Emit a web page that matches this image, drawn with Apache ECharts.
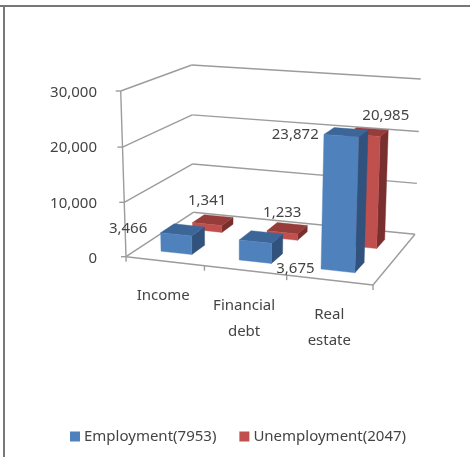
<!DOCTYPE html>
<html>
<head>
<meta charset="utf-8">
<style>html,body{margin:0;padding:0;background:#fff}#chart{width:470px;height:457px}</style>
<script src="https://cdn.jsdelivr.net/npm/echarts@6/dist/echarts.min.js"></script>
</head>
<body>
<div id="chart"></div>
<script>
// Data
const categories = ['Income', 'Financial\ndebt', 'Real\nestate'];
const employment = [3466, 3675, 23872];
const unemployment = [1341, 1233, 20985];
const valueTicks = [0, 10000, 20000, 30000];
const valueMax = 30000;

// Label placement relative to each bar's top front edge, in pixels
const employmentLabelShift = [[-48, -6], [40, 27], [-46, -1]];
const unemploymentLabelShift = [[0, -23], [0, -20], [22, -19]];
const categoryLabelDrop = [21, 22, 21];
const categoryLabelNudge = [-1.5, -1, 0];

// Plot box in perspective: corners of the floor and the ceiling (front-left,
// front-right, back-right, back-left)
const floorQuad = [[126, 256.7], [373, 285], [415, 234.3], [193.3, 212.3]];
const ceilQuad = [[120.7, 91], [378.5, 108.6], [420.7, 79], [191.7, 65]];
const verticalFalloff = 0.977;

const gridBox = { left: 121, top: 91, width: 252, height: 165.7 };
const fontFamily = '"Noto Sans", sans-serif';
const fontSize = 15;
const textColor = '#444444';
const lineColor = '#9c9c9c';

function quadMap(q) {
  const [p0, p1, p2, p3] = q;
  const dx1 = p1[0] - p2[0], dx2 = p3[0] - p2[0], sx = p0[0] - p1[0] + p2[0] - p3[0];
  const dy1 = p1[1] - p2[1], dy2 = p3[1] - p2[1], sy = p0[1] - p1[1] + p2[1] - p3[1];
  const den = dx1 * dy2 - dx2 * dy1;
  const g = (sx * dy2 - dx2 * sy) / den;
  const h = (dx1 * sy - sx * dy1) / den;
  const a = p1[0] - p0[0] + g * p1[0], b = p3[0] - p0[0] + h * p3[0], c = p0[0];
  const d = p1[1] - p0[1] + g * p1[1], e = p3[1] - p0[1] + h * p3[1], f = p0[1];
  return (u, v) => {
    const w = g * u + h * v + 1;
    return [(a * u + b * v + c) / w, (d * u + e * v + f) / w];
  };
}
const floorAt = quadMap(floorQuad);
const ceilAt = quadMap(ceilQuad);

// u: across the categories, v: into the depth, t: share of the value axis
function project(u, v, t) {
  const F = floorAt(u, v), C = ceilAt(u, v);
  const k = t * verticalFalloff, n = 1 - t + k;
  return [(F[0] * (1 - t) + C[0] * k) / n, (F[1] * (1 - t) + C[1] * k) / n];
}
function shareOf(api, value) {
  const y0 = api.coord([0, 0])[1], y1 = api.coord([0, valueMax])[1];
  return (y0 - api.coord([0, value])[1]) / (y0 - y1);
}
function acrossOf(api, index) {
  return (api.coord([index, 0])[0] - gridBox.left) / gridBox.width;
}
function seg(a, b, width) {
  return {
    type: 'line',
    shape: { x1: a[0], y1: a[1], x2: b[0], y2: b[1] },
    style: { stroke: lineColor, lineWidth: width || 1.4 }
  };
}
function face(points, fill) {
  return { type: 'polygon', shape: { points }, style: { fill, stroke: fill, lineWidth: 0.4 } };
}

// Wall grid lines for each tick, plus floor edges and axis ticks on the zero line
function renderFrame(params, api) {
  const t = shareOf(api, api.value(1));
  const children = [
    seg(project(0, 0, t), project(0, 1, t)),
    seg(project(0, 1, t), project(1, 1, t)),
    seg([project(0, 0, t)[0] - 5, project(0, 0, t)[1]], project(0, 0, t))
  ];
  if (api.value(1) === 0) {
    children.push(seg(project(0, 0, 0), project(0, 0, 1)));
    children.push(seg(project(0, 0, 0), project(1, 0, 0)));
    children.push(seg(project(1, 0, 0), project(1, 1, 0)));
    [0, 1 / 3, 2 / 3, 1].forEach(u => {
      const p = project(u, 0, 0);
      children.push(seg(p, [p[0], p[1] + 5]));
    });
  }
  return { type: 'group', children };
}

function barRenderer(depth, palette, shifts) {
  return function (params, api) {
    const index = api.value(0), value = api.value(1);
    const half = api.size([1, 0])[0] * 0.2 / gridBox.width;
    const c = acrossOf(api, index);
    const u0 = c - half, u1 = c + half;
    const [v0, v1] = depth;
    const t = shareOf(api, value);
    const top = project((u0 + u1) / 2, v0, t);
    const shift = shifts[index];
    return {
      type: 'group',
      children: [
        face([project(u1, v0, 0), project(u1, v1, 0), project(u1, v1, t), project(u1, v0, t)], palette.side),
        face([project(u0, v0, t), project(u1, v0, t), project(u1, v1, t), project(u0, v1, t)], palette.top),
        face([project(u0, v0, 0), project(u1, v0, 0), project(u1, v0, t), project(u0, v0, t)], palette.front),
        {
          type: 'text',
          z2: 10,
          style: {
            text: value.toLocaleString('en-US'),
            x: top[0] + shift[0],
            y: top[1] + shift[1],
            align: 'center',
            verticalAlign: 'middle',
            fill: textColor,
            fontFamily,
            fontSize
          }
        }
      ]
    };
  };
}

function renderCategory(params, api) {
  const index = api.value(0);
  const p = project(acrossOf(api, index), 0, 0);
  return {
    type: 'text',
    style: {
      text: categories[index],
      x: p[0] + categoryLabelNudge[index],
      y: p[1] + categoryLabelDrop[index],
      align: 'center',
      verticalAlign: 'top',
      lineHeight: 26.5,
      fill: textColor,
      fontFamily,
      fontSize
    }
  };
}

const chart = echarts.init(document.getElementById('chart'));
chart.setOption({
  animation: false,
  backgroundColor: '#ffffff',
  textStyle: { fontFamily },
  grid: gridBox,
  xAxis: {
    type: 'category',
    data: categories,
    axisLine: { show: false },
    axisTick: { show: false },
    axisLabel: { show: false }
  },
  yAxis: {
    type: 'value',
    min: 0,
    max: valueMax,
    interval: 10000,
    axisLine: { show: false },
    axisTick: { show: false },
    splitLine: { show: false },
    axisLabel: {
      margin: 24,
      color: textColor,
      fontSize,
      fontFamily,
      verticalAlign: 'top',
      lineHeight: 4,
      formatter: v => v.toLocaleString('en-US')
    }
  },
  legend: {
    data: ['Employment(7953)', 'Unemployment(2047)'],
    left: 65,
    top: 424,
    icon: 'rect',
    itemWidth: 10,
    itemHeight: 10,
    itemGap: 23,
    textStyle: { color: textColor, fontSize, fontFamily, padding: [3, 0, 0, -1] }
  },
  graphic: [
    { type: 'line', silent: true, shape: { x1: 0, y1: 6, x2: 470, y2: 6 }, style: { stroke: '#777777', lineWidth: 2 } },
    { type: 'line', silent: true, shape: { x1: 4, y1: 6, x2: 4, y2: 457 }, style: { stroke: '#777777', lineWidth: 2 } }
  ],
  series: [
    {
      type: 'custom',
      silent: true,
      renderItem: renderFrame,
      encode: { x: 0, y: 1 },
      data: valueTicks.map(v => [0, v])
    },
    {
      type: 'custom',
      silent: true,
      renderItem: renderCategory,
      encode: { x: 0, y: 1 },
      data: categories.map((c, i) => [i, 0])
    },
    {
      name: 'Unemployment(2047)',
      type: 'custom',
      renderItem: barRenderer([0.64, 0.83], { front: '#C0504D', top: '#963C3A', side: '#782F2D' }, unemploymentLabelShift),
      itemStyle: { color: '#C0504D' },
      encode: { x: 0, y: 1 },
      data: unemployment.map((v, i) => [i, v])
    },
    {
      name: 'Employment(7953)',
      type: 'custom',
      renderItem: barRenderer([0.165, 0.36], { front: '#4F81BD', top: '#3D6698', side: '#31527C' }, employmentLabelShift),
      itemStyle: { color: '#4F81BD' },
      encode: { x: 0, y: 1 },
      data: employment.map((v, i) => [i, v])
    }
  ]
});
</script>
</body>
</html>
